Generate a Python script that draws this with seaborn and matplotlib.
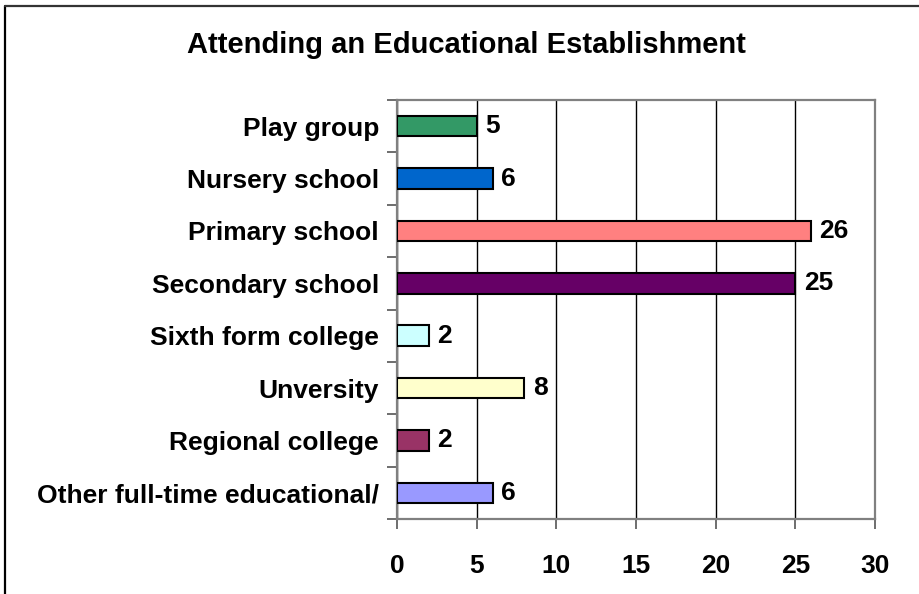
import numpy as np
import pandas as pd
import matplotlib
matplotlib.use('Agg')
import matplotlib.pyplot as plt
from matplotlib.lines import Line2D
from matplotlib.ticker import FixedLocator
import seaborn as sns

# ── Data ────────────────────────────────────────────────────────────
categories = ['Play group', 'Nursery school', 'Primary school', 'Secondary school',
              'Sixth form college', 'Unversity', 'Regional college',
              'Other full-time educational/']
counts = [5, 6, 26, 25, 2, 8, 2, 6]
bar_colors = ['#339966', '#0066CC', '#FF8080', '#660066',
              '#CCFFFF', '#FFFFCC', '#993366', '#9999FF']
x_ticks = [0, 5, 10, 15, 20, 25, 30]

df = pd.DataFrame({'category': categories, 'count': counts})

# ── Style ───────────────────────────────────────────────────────────
sns.set_style('white')
plt.rcParams['font.family'] = ['Liberation Sans', 'DejaVu Sans']
plt.rcParams['font.weight'] = 'bold'
plt.rcParams['text.color'] = 'black'

fig = plt.figure(figsize=(9.19, 5.94), dpi=100)
ax = fig.add_axes([397 / 919, 1 - 519 / 594, (875 - 397) / 919, (519 - 100) / 594])

sns.barplot(data=df, x='count', y='category', hue='category',
            palette=bar_colors, saturation=1, dodge=False, legend=False, orient='h',
            width=0.39, edgecolor='black', linewidth=1.5, ax=ax, zorder=3)

for cont in ax.containers:
    ax.bar_label(cont, fmt='%d', padding=6, fontsize=19, fontweight='bold', color='black')

ax.set_xlim(0, 30)
ax.set_ylim(len(categories) - 0.5, -0.5)
ax.set_xticks(x_ticks)
ax.set_xticklabels([str(t) for t in x_ticks], fontsize=19, fontweight='bold')
ax.set_yticks(range(len(categories)))
ax.set_yticklabels(categories, fontsize=19, fontweight='bold')
ax.yaxis.set_minor_locator(FixedLocator(np.arange(-0.5, len(categories), 1.0)))
ax.tick_params(axis='y', which='major', length=0, pad=13, labelcolor='black')
ax.tick_params(axis='y', which='minor', length=7, width=1.2, color='#555555', direction='out', left=True)
ax.tick_params(axis='x', length=7, width=1.2, color='#555555', direction='out', pad=18,
               bottom=True, labelcolor='black')
ax.set_xlabel('')
ax.set_ylabel('')

ax.grid(axis='x', color='black', linewidth=1, zorder=0)
ax.grid(axis='y', visible=False)
ax.set_axisbelow(True)
for side in ['left', 'bottom', 'top', 'right']:
    ax.spines[side].set_visible(True)
    ax.spines[side].set_color('#808080')
    ax.spines[side].set_linewidth(1.6)

fig.text(0.508, 0.924, 'Attending an Educational Establishment',
         ha='center', va='center', fontsize=21, fontweight='bold', color='black')

# outer frame (left and top edges only visible)
fig.add_artist(Line2D([5 / 919, 5 / 919], [0, 1 - 6 / 594], color='black', linewidth=1.6))
fig.add_artist(Line2D([5 / 919, 1], [1 - 6 / 594, 1 - 6 / 594], color='#333333', linewidth=1.6))

fig.savefig('out.png', dpi=100)
plt.close(fig)
